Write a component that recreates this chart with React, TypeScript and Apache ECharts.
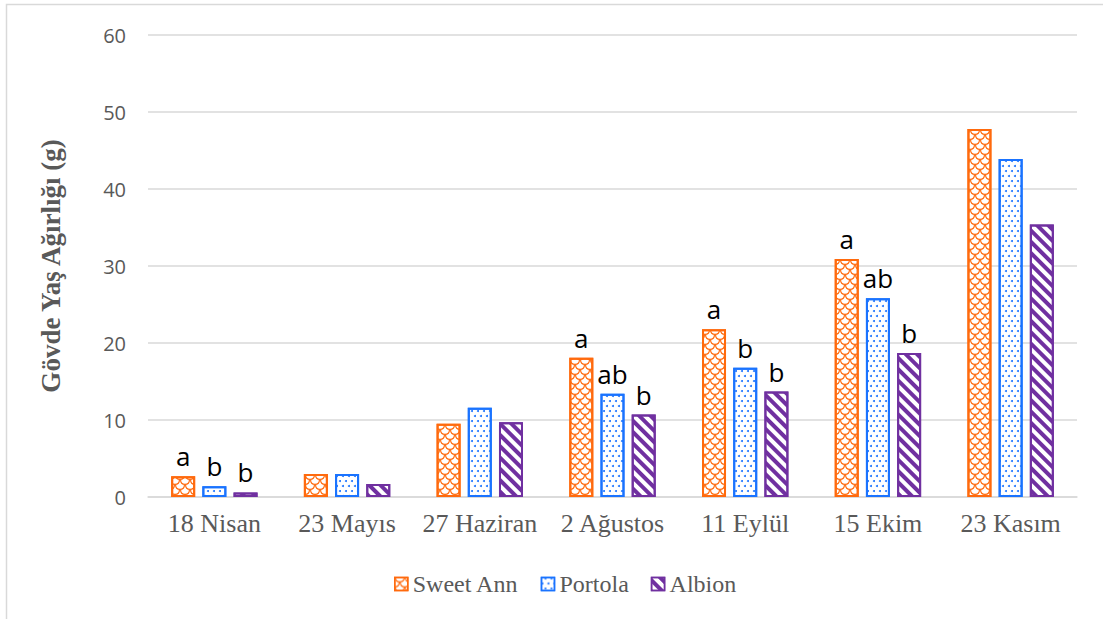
import React, { useEffect, useRef } from "react";
import * as echarts from "echarts";

const categories = ["18 Nisan", "23 Mayıs", "27 Haziran", "2 Ağustos", "11 Eylül", "15 Ekim", "23 Kasım"];
const sweetAnn = [2.7, 3.0, 9.5, 18.1, 21.8, 30.9, 47.8];
const portola = [1.4, 3.0, 11.6, 13.4, 16.8, 25.8, 43.9];
const albion = [0.6, 1.7, 9.7, 10.7, 13.7, 18.7, 35.4];
const sweetAnnLetters = ["a", "", "", "a", "a", "a", ""];
const portolaLetters = ["b", "", "", "ab", "b", "ab", ""];
const albionLetters = ["b", "", "", "b", "b", "b", ""];
const yTicks = [0, 10, 20, 30, 40, 50, 60];

const ORANGE = "#FF6A0D";
const BLUE = "#1A73FF";
const PURPLE = "#7030A0";

const scalePath =
  "path://M0 0 Q0 5 5 5 Q10 5 10 0 L8.8 0 Q8.8 3.8 5 3.8 Q1.2 3.8 1.2 0 Z " +
  "M0 10 Q5 10 5 5 L3.8 5 Q3.8 8.8 0 8.8 Z " +
  "M10 10 Q5 10 5 5 L6.2 5 Q6.2 8.8 10 8.8 Z";

export default function App() {
  const ref = useRef<HTMLDivElement>(null);
  useEffect(() => {
    if (!ref.current) return;
    const chart = echarts.init(ref.current, null, { renderer: "svg" });
    const labelStyle = {
      show: true,
      position: "top" as const,
      distance: 7,
      fontFamily: "Open Sans",
      fontSize: 26,
      color: "#000",
    };
    chart.setOption({
      animation: false,
      backgroundColor: "#fff",
      graphic: [
        {
          type: "rect",
          shape: { x: 6.5, y: 4.5, width: 1200, height: 800 },
          style: { fill: "none", stroke: "#d9d9d9", lineWidth: 1.5 },
          silent: true,
          z: -10,
        },
      ],
      grid: { left: 148, right: 26, top: 35, bottom: 122 },
      legend: {
        bottom: 18,
        left: 389,
        itemWidth: 13,
        itemHeight: 13,
        itemGap: 22,
        icon: "rect",
        textStyle: { fontFamily: "Liberation Serif", fontSize: 24, color: "#595959" },
        itemStyle: { borderWidth: 1.5 },
      },
      xAxis: {
        type: "category",
        data: categories,
        axisLine: { lineStyle: { color: "#d9d9d9", width: 1.5 } },
        axisTick: { show: false },
        axisLabel: { interval: 0, fontFamily: "Liberation Serif", fontSize: 26, color: "#595959", margin: 13 },
      },
      yAxis: {
        type: "value",
        min: yTicks[0],
        max: yTicks[yTicks.length - 1],
        interval: 10,
        name: "Gövde Yaş Ağırlığı (g)",
        nameLocation: "middle",
        nameGap: 84,
        nameTextStyle: { fontFamily: "Liberation Serif", fontWeight: "bold", fontSize: 27, color: "#595959" },
        axisLine: { show: false },
        axisTick: { show: false },
        splitLine: { lineStyle: { color: "#d9d9d9", width: 1.5 } },
        axisLabel: { fontFamily: "Open Sans", fontSize: 20, color: "#595959", margin: 22 },
      },
      series: [
        {
          name: "Sweet Ann",
          type: "bar",
          data: sweetAnn,
          barWidth: 24,
          barGap: "30%",
          itemStyle: {
            color: "#fff",
            borderColor: ORANGE,
            borderWidth: 2,
            decal: {
              symbol: scalePath,
              symbolSize: 1,
              symbolKeepAspect: false,
              color: ORANGE,
              backgroundColor: "#fff",
              dashArrayX: [10, 0],
              dashArrayY: [10, 0],
            },
          },
          label: { ...labelStyle, formatter: (p: any) => sweetAnnLetters[p.dataIndex] },
        },
        {
          name: "Portola",
          type: "bar",
          data: portola,
          barWidth: 24,
          barGap: "30%",
          itemStyle: {
            color: "#fff",
            borderColor: BLUE,
            borderWidth: 2,
            decal: {
              symbol: "circle",
              symbolSize: 1,
              color: BLUE,
              backgroundColor: "#fff",
              dashArrayX: [[2, 4], [0, 3, 2, 1]],
              dashArrayY: [2, 3],
            },
          },
          label: { ...labelStyle, formatter: (p: any) => portolaLetters[p.dataIndex] },
        },
        {
          name: "Albion",
          type: "bar",
          data: albion,
          barWidth: 24,
          barGap: "30%",
          itemStyle: {
            color: "#fff",
            borderColor: PURPLE,
            borderWidth: 2,
            decal: {
              symbol: "rect",
              symbolSize: 1,
              color: PURPLE,
              backgroundColor: "#fff",
              dashArrayX: [1, 0],
              dashArrayY: [4, 4],
              rotation: Math.PI / 4,
            },
          },
          label: { ...labelStyle, formatter: (p: any) => albionLetters[p.dataIndex] },
        },
      ],
    });
    return () => chart.dispose();
  }, []);
  return (
    <div
      ref={ref}
      style={{ position: "fixed", left: 0, top: 0, width: 1103, height: 619 }}
    />
  );
}
